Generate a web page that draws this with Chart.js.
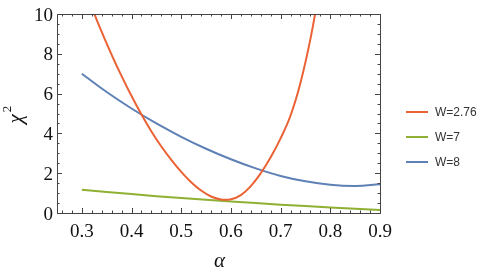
<!DOCTYPE html>
<html>
<head>
<meta charset="utf-8">
<script src="https://cdn.jsdelivr.net/npm/chart.js@4"></script>
<style>
    body { margin: 0; background: #fff; }
    #wrap { width: 491px; height: 275px; }
</style>
</head>
<body>
<div id="wrap"><canvas id="chart" width="491" height="275"></canvas></div>
<script>
const seriesNames = ['W=2.76', 'W=7', 'W=8'];
const seriesColors = ['#EB6235', '#8FB032', '#5E81B5'];

const redAlpha = [0.31, 0.32, 0.34, 0.36, 0.38, 0.40, 0.42, 0.44, 0.46, 0.48, 0.50, 0.52, 0.54,
                  0.56, 0.58, 0.60, 0.62, 0.64, 0.66, 0.68, 0.70, 0.72, 0.74, 0.76, 0.78];
const redChi2 = [11.6, 10.4, 9.1, 7.95, 6.88, 5.88, 4.95, 4.1, 3.34, 2.67, 2.07, 1.55, 1.13,
                 0.83, 0.68, 0.69, 0.9, 1.35, 2.0, 2.8, 3.75, 4.9, 6.55, 8.75, 11.5];

const greenAlpha = [0.3, 0.4, 0.5, 0.6, 0.7, 0.8, 0.9];
const greenChi2 = [1.17, 0.95, 0.75, 0.58, 0.42, 0.28, 0.15];

const blueAlpha = [0.30, 0.35, 0.40, 0.45, 0.50, 0.55, 0.60, 0.65, 0.70, 0.75, 0.80, 0.85, 0.90];
const blueChi2 = [7.0, 6.08, 5.25, 4.5, 3.83, 3.23, 2.7, 2.24, 1.86, 1.59, 1.42, 1.36, 1.44];

const xTicks = [0.3, 0.4, 0.5, 0.6, 0.7, 0.8, 0.9];
const yTicks = [0, 2, 4, 6, 8, 10];

const serifFont = '"Liberation Serif", serif';
const sansFont = '"Liberation Sans", sans-serif';

function toPoints(xs, ys) {
    return xs.map((x, i) => ({ x: x, y: ys[i] }));
}

// Mathematica style frame: inward ticks on all four sides, labels left/bottom
const framePlugin = {
    id: 'frame',
    afterDraw(chart) {
        const ctx = chart.ctx;
        const area = chart.chartArea;
        const xs = chart.scales.x;
        const ys = chart.scales.y;
        ctx.save();
        ctx.strokeStyle = '#444';
        ctx.lineWidth = 1;

        for (let i = 0; i <= 32; i++) {
            const v = 0.26 + i * 0.02;
            if (v > 0.901) break;
            const px = Math.round(xs.getPixelForValue(v)) + 0.5;
            const major = xTicks.some(t => Math.abs(t - v) < 1e-6);
            const len = major ? 5 : 2.5;
            ctx.beginPath();
            ctx.moveTo(px, area.bottom);
            ctx.lineTo(px, area.bottom - len);
            ctx.moveTo(px, area.top);
            ctx.lineTo(px, area.top + len);
            ctx.stroke();
        }
        for (let i = 0; i <= 20; i++) {
            const v = i * 0.5;
            const py = Math.round(ys.getPixelForValue(v)) + 0.5;
            const major = yTicks.includes(v);
            const len = major ? 5 : 2.5;
            ctx.beginPath();
            ctx.moveTo(area.left, py);
            ctx.lineTo(area.left + len, py);
            ctx.moveTo(area.right, py);
            ctx.lineTo(area.right - len, py);
            ctx.stroke();
        }
        ctx.strokeRect(Math.round(area.left) + 0.5, Math.round(area.top) + 0.5,
            Math.round(area.right - area.left), Math.round(area.bottom - area.top));

        // tick labels
        ctx.fillStyle = '#111';
        ctx.font = '19px ' + serifFont;
        ctx.textAlign = 'center';
        ctx.textBaseline = 'alphabetic';
        xTicks.forEach(t => {
            ctx.fillText(t.toFixed(1), xs.getPixelForValue(t), area.bottom + 24);
        });
        ctx.textAlign = 'right';
        yTicks.forEach(t => {
            ctx.fillText(String(t), area.left - 4, ys.getPixelForValue(t) + 6.5);
        });

        // axis titles
        ctx.font = 'italic 21px ' + serifFont;
        ctx.textAlign = 'center';
        ctx.textBaseline = 'middle';
        ctx.fillText('\u03b1', (area.left + area.right) / 2 + 1, 261);
        ctx.save();
        ctx.translate(16, 116);
        ctx.rotate(-Math.PI / 2);
        ctx.fillText('\u03c7', -3, 0);
        ctx.font = '13px ' + serifFont;
        ctx.fillText('2', 7, -8);
        ctx.restore();

        // legend
        const legendY = [112, 137, 162];
        ctx.font = '12px ' + sansFont;
        ctx.textAlign = 'left';
        ctx.textBaseline = 'middle';
        chart.data.datasets.forEach((ds, i) => {
            ctx.strokeStyle = ds.borderColor;
            ctx.lineWidth = 2;
            ctx.beginPath();
            ctx.moveTo(406, legendY[i]);
            ctx.lineTo(428, legendY[i]);
            ctx.stroke();
            ctx.fillStyle = '#333';
            ctx.fillText(ds.label, 435, legendY[i] + 0.5);
        });
        ctx.restore();
    }
};

new Chart(document.getElementById('chart'), {
    type: 'line',
    data: {
        datasets: [
            { label: seriesNames[0], data: toPoints(redAlpha, redChi2), borderColor: seriesColors[0] },
            { label: seriesNames[1], data: toPoints(greenAlpha, greenChi2), borderColor: seriesColors[1] },
            { label: seriesNames[2], data: toPoints(blueAlpha, blueChi2), borderColor: seriesColors[2] }
        ]
    },
    options: {
        responsive: false,
        animation: false,
        layout: { padding: { left: 57, top: 14, right: 111, bottom: 62 } },
        elements: {
            line: { borderWidth: 2, tension: 0.4, fill: false },
            point: { radius: 0 }
        },
        plugins: {
            legend: { display: false },
            tooltip: { enabled: false }
        },
        scales: {
            x: { type: 'linear', min: 0.25, max: 0.9, display: false },
            y: { type: 'linear', min: 0, max: 10, display: false }
        }
    },
    plugins: [framePlugin]
});
</script>
</body>
</html>
